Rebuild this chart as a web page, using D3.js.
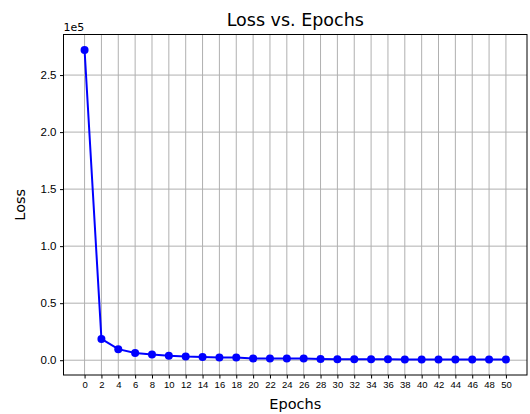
<!DOCTYPE html>
<html>
<head>
<meta charset="utf-8">
<script src="https://cdn.jsdelivr.net/npm/d3@7"></script>
<style>
  body { margin: 0; background: #fff; }
  svg { display: block; font-family: "DejaVu Sans", sans-serif; }
</style>
</head>
<body>
<div id="chart"></div>
<script>
// Loss per epoch
const epochs = [0, 2, 4, 6, 8, 10, 12, 14, 16, 18, 20, 22, 24, 26, 28, 30, 32, 34, 36, 38, 40, 42, 44, 46, 48, 50];
const loss = [272000, 18700, 9700, 6400, 5000, 3900, 3200, 2900, 2400, 2300, 1600, 1600, 1500, 1500, 1100, 900,
              900, 800, 800, 700, 700, 700, 700, 700, 700, 600];
const yTicks = [0, 50000, 100000, 150000, 200000, 250000];

function drawChart() {
    const width = 530, height = 414;
    const margin = {top: 34.5, right: 3, bottom: 39, left: 63.5};

    const svg = d3.select("#chart").append("svg")
        .attr("width", width)
        .attr("height", height);

    // matplotlib-style 5% padding around the data
    const xPad = (d3.max(epochs) - d3.min(epochs)) * 0.05;
    const yPad = (d3.max(loss) - d3.min(loss)) * 0.05;

    const x = d3.scaleLinear()
        .domain([d3.min(epochs) - xPad, d3.max(epochs) + xPad])
        .range([margin.left, width - margin.right]);
    const y = d3.scaleLinear()
        .domain([d3.min(loss) - yPad, d3.max(loss) + yPad])
        .range([height - margin.bottom, margin.top]);

    // grid
    const grid = svg.append("g").attr("stroke", "#b0b0b0").attr("stroke-width", 1);
    grid.selectAll(".gx").data(epochs).join("line")
        .attr("x1", d => x(d)).attr("x2", d => x(d))
        .attr("y1", margin.top).attr("y2", height - margin.bottom);
    grid.selectAll(".gy").data(yTicks).join("line")
        .attr("y1", d => y(d)).attr("y2", d => y(d))
        .attr("x1", margin.left).attr("x2", width - margin.right);

    // axes
    const xAxis = d3.axisBottom(x).tickValues(epochs).tickSize(3.5).tickPadding(3).tickSizeOuter(0);
    const gx = svg.append("g")
        .attr("transform", `translate(0,${height - margin.bottom})`)
        .call(xAxis);
    gx.select(".domain").remove();
    gx.selectAll("text").style("font-size", "9.5px").attr("fill", "#000");

    const yAxis = d3.axisLeft(y).tickValues(yTicks).tickSize(3.5).tickPadding(3.5)
        .tickFormat(d => (d / 1e5).toFixed(1));
    const gy = svg.append("g")
        .attr("transform", `translate(${margin.left},0)`)
        .call(yAxis);
    gy.select(".domain").remove();
    gy.selectAll("text").style("font-size", "11.5px").attr("fill", "#000");

    // frame
    svg.append("rect")
        .attr("x", margin.left).attr("y", margin.top)
        .attr("width", width - margin.right - margin.left)
        .attr("height", height - margin.bottom - margin.top)
        .attr("fill", "none").attr("stroke", "#000").attr("stroke-width", 1);

    // line + markers
    const pts = epochs.map((e, i) => ({e: e, v: loss[i]}));
    svg.append("path")
        .datum(pts)
        .attr("fill", "none")
        .attr("stroke", "#0000ff")
        .attr("stroke-width", 2)
        .attr("d", d3.line().x(d => x(d.e)).y(d => y(d.v)));
    svg.selectAll(".pt").data(pts).join("circle")
        .attr("cx", d => x(d.e)).attr("cy", d => y(d.v))
        .attr("r", 4)
        .attr("fill", "#0000ff");

    // texts
    svg.append("text")
        .attr("x", (margin.left + width - margin.right) / 2)
        .attr("y", 26)
        .attr("text-anchor", "middle")
        .style("font-size", "17.5px")
        .text("Loss vs. Epochs");

    svg.append("text")
        .attr("x", margin.left)
        .attr("y", 31)
        .style("font-size", "11px")
        .text("1e5");

    svg.append("text")
        .attr("x", (margin.left + width - margin.right) / 2)
        .attr("y", 409)
        .attr("text-anchor", "middle")
        .style("font-size", "14.5px")
        .text("Epochs");

    svg.append("text")
        .attr("transform", `translate(25,${(margin.top + height - margin.bottom) / 2}) rotate(-90)`)
        .attr("text-anchor", "middle")
        .style("font-size", "14.5px")
        .text("Loss");
}

document.addEventListener("DOMContentLoaded", drawChart);
</script>
</body>
</html>
